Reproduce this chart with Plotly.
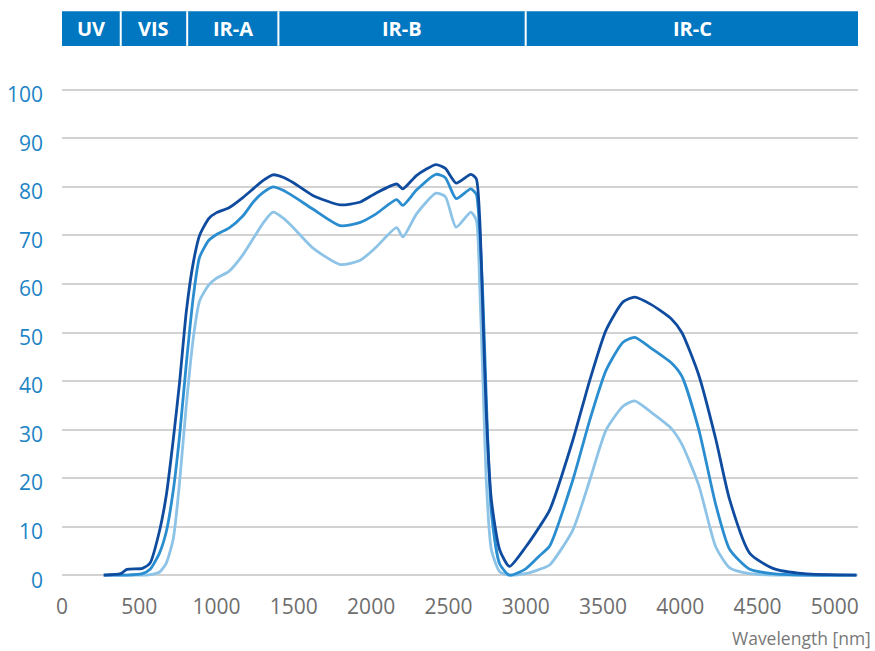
import plotly.graph_objects as go

# Wavelength sample points [nm]
wavelength = [270, 380, 420, 520, 570, 630, 675, 720, 760, 805, 850, 890, 950, 1000,
              1080, 1170, 1240, 1300, 1365, 1430, 1500, 1620, 1800, 1930, 2030, 2165,
              2205, 2295, 2420, 2480, 2550, 2645, 2680, 2702, 2724, 2746, 2778, 2832,
              2895, 3000, 3090, 3155, 3305, 3415, 3520, 3630, 3705, 3810, 3940, 4010,
              4120, 4230, 4320, 4450, 4600, 4800, 5140]

series_dark = [0, 0.3, 1.2, 1.4, 2.5, 9, 16.5, 28, 39.5, 54.5, 64.5, 70, 73.5, 74.7,
               75.7, 77.8, 79.7, 81.3, 82.5, 82, 80.8, 78.3, 76.3, 76.9, 78.7, 80.6,
               79.6, 82.4, 84.6, 83.8, 80.8, 82.6, 81.7, 73.8, 53, 32.6, 15.5, 5.2,
               1.8, 5.8, 10, 13.4, 27.8, 40.2, 50.5, 56.3, 57.3, 55.8, 52.9, 50,
               41.2, 28, 15.5, 4.5, 1.4, 0.3, 0]

series_medium = [0, 0, 0, 0.3, 1.2, 4.5, 9, 17.5, 28.5, 43.8, 57.5, 65.5, 69, 70.2,
                 71.5, 74, 77, 78.8, 80, 79.3, 78, 75.5, 72, 72.7, 74.4, 77.4,
                 76.2, 79.4, 82.6, 81.9, 77.6, 79.6, 78.5, 71, 56.5, 35.5, 13, 2.3,
                 0, 1.3, 4, 6, 19.6, 32, 42.2, 48, 49, 46.8, 43.8, 41,
                 30, 14.5, 5.3, 1.2, 0.3, 0, 0]

series_light = [0, 0, 0, 0, 0.1, 0.6, 2.5, 7.5, 18.9, 35.3, 49, 56.5, 59.8, 61.2,
                62.6, 66, 69.5, 72.5, 74.8, 73.6, 71.5, 67.5, 64, 64.9, 67.5, 71.6,
                69.7, 74.5, 78.7, 78, 71.7, 74.8, 73.2, 60.1, 39.5, 18.9, 5.2, 0.7,
                0, 0.3, 1.2, 2.1, 9.3, 19.6, 29.9, 34.8, 35.9, 33.6, 30.3, 27,
                18.5, 5.8, 1.5, 0.3, 0, 0, 0]

# Spectral bands shown in the header bar
band_names = ["UV", "VIS", "IR-A", "IR-B", "IR-C"]
band_edges = [0, 380, 810, 1400, 3000, 5160]

y_ticks = [0, 10, 20, 30, 40, 50, 60, 70, 80, 90, 100]
x_ticks = [0, 500, 1000, 1500, 2000, 2500, 3000, 3500, 4000, 4500, 5000]

colors = ["#8cc3e6", "#2a8dd0", "#0f4c9f"]

fig = go.Figure()
for vals, col in zip([series_light, series_medium, series_dark], colors):
    fig.add_trace(go.Scatter(
        x=wavelength, y=vals, mode="lines",
        line=dict(color=col, width=2.8, shape="spline", smoothing=0.6),
        showlegend=False, hoverinfo="skip"))

# Header bar
header_color = "#0077c0"
fig.add_shape(type="rect", xref="x", yref="paper",
              x0=band_edges[0], x1=band_edges[-1], y0=1.079, y1=1.149,
              fillcolor=header_color, line=dict(width=0), layer="above")
for e in band_edges[1:-1]:
    fig.add_shape(type="line", xref="x", yref="paper",
                  x0=e, x1=e, y0=1.079, y1=1.149,
                  line=dict(color="white", width=2), layer="above")
for i, name in enumerate(band_names):
    fig.add_annotation(x=(band_edges[i] + band_edges[i + 1]) / 2, xref="x",
                       y=1.114, yref="paper", text=f"<b>{name}</b>", showarrow=False,
                       font=dict(family="Open Sans", size=20, color="white"),
                       xanchor="center", yanchor="middle")

fig.add_annotation(x=1.019, xref="paper", y=-0.118, yref="paper",
                   text="Wavelength [nm]", showarrow=False,
                   xanchor="right", yanchor="middle",
                   font=dict(family="Open Sans", size=17.5, color="#787878"))

fig.update_layout(
    width=875, height=651,
    margin=dict(l=62, r=17, t=85, b=71),
    paper_bgcolor="white", plot_bgcolor="white",
    xaxis=dict(range=[0, 5150], tickvals=x_ticks, showgrid=False, zeroline=False,
               showline=False, ticks="outside", ticklen=8, tickcolor="rgba(0,0,0,0)",
               automargin=False,
               tickfont=dict(family="Open Sans", size=21, color="#6e6e6e")),
    yaxis=dict(range=[-1, 101], tickvals=y_ticks, showgrid=True, gridcolor="#d2d2d2",
               gridwidth=1.5, zeroline=False, showline=False, automargin=False,
               ticklabelstandoff=18, ticklabelshift=5,
               tickfont=dict(family="Open Sans", size=21, color="#1d84c6")),
)

# Remove the default page margin so the figure sits at the window's corner.
fig.write_html("out.html", config={"displayModeBar": False},
               post_script="document.body.style.margin='0';document.body.style.overflow='hidden';")
